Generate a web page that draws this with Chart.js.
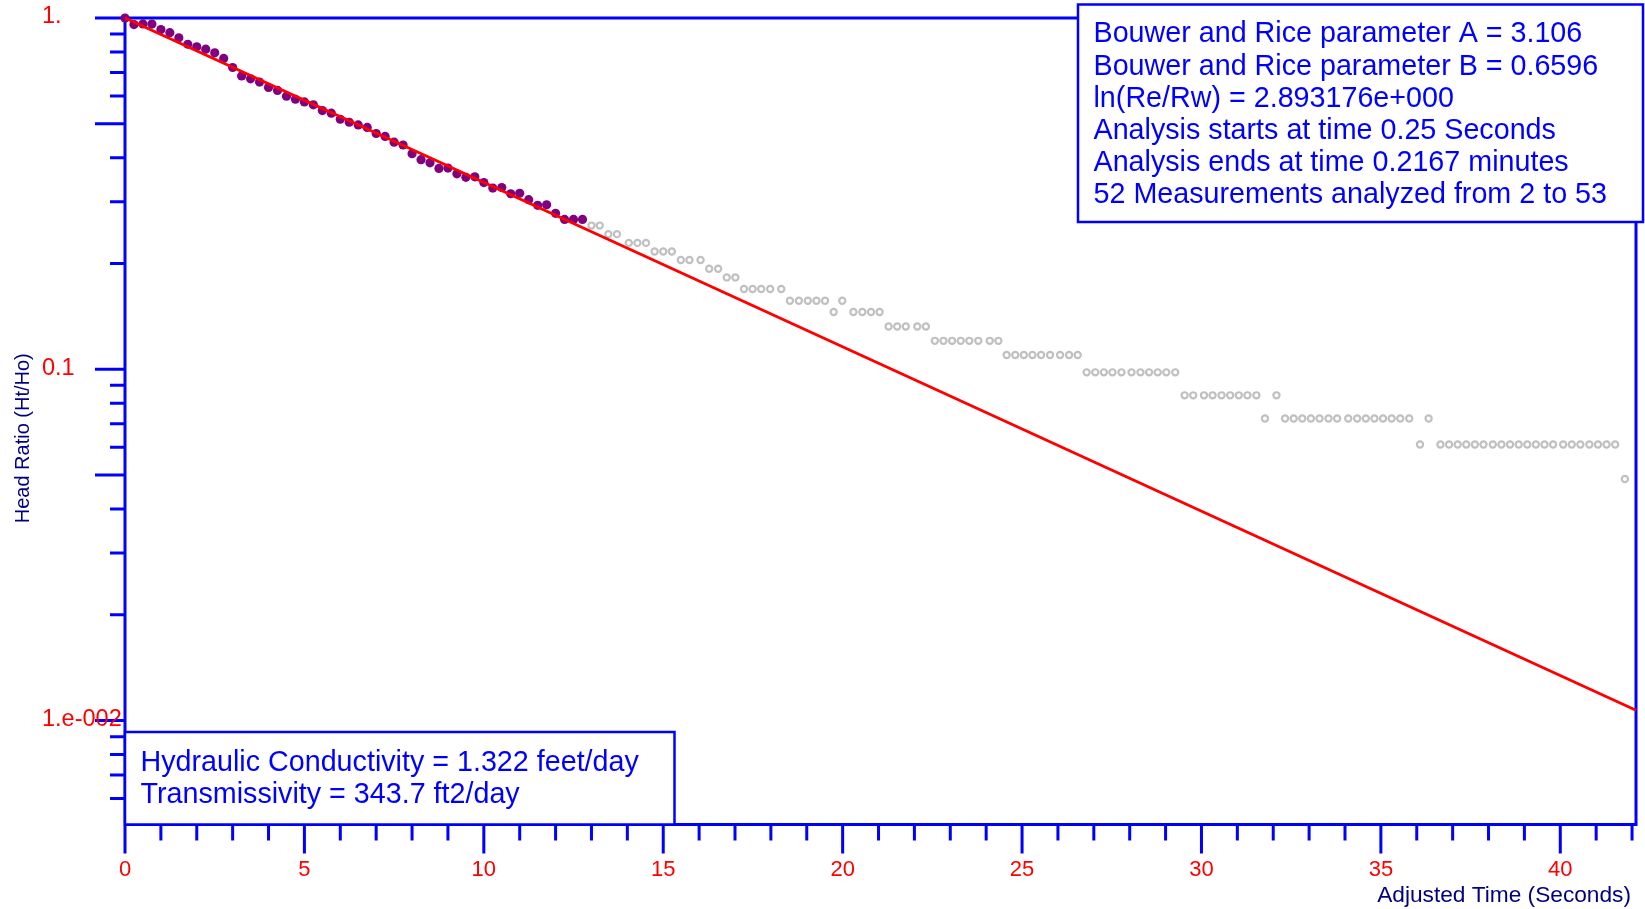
<!DOCTYPE html>
<html>
<head>
<meta charset="utf-8">
<script src="https://cdn.jsdelivr.net/npm/chart.js@4.4.0/dist/chart.umd.min.js"></script>
<style>
  html, body { margin: 0; padding: 0; background: #ffffff; }
  #wrap { position: relative; width: 1645px; height: 909px; }
</style>
</head>
<body>
<div id="wrap"><canvas id="slug"></canvas></div>
<script>
// Head ratio measurements inside the analysis window (adjusted time, seconds)
const analyzedTime = [0, 0.25, 0.5, 0.75, 1, 1.25, 1.5, 1.75, 2, 2.25, 2.5, 2.75, 3, 3.25, 3.5, 3.75,
  4, 4.25, 4.5, 4.75, 5, 5.25, 5.5, 5.75, 6, 6.25, 6.5, 6.75, 7, 7.25, 7.5, 7.75, 8, 8.25, 8.5, 8.75,
  9, 9.25, 9.5, 9.75, 10, 10.25, 10.5, 10.75, 11, 11.25, 11.5, 11.75, 12, 12.25, 12.5, 12.75];
const analyzedRatio = [1.000, 0.958, 0.962, 0.961, 0.927, 0.908, 0.878, 0.842, 0.828, 0.815, 0.796, 0.767,
  0.723, 0.684, 0.671, 0.657, 0.634, 0.622, 0.599, 0.587, 0.577, 0.566, 0.545, 0.536, 0.515, 0.505,
  0.496, 0.488, 0.469, 0.460, 0.443, 0.435, 0.411, 0.395, 0.387, 0.373, 0.374, 0.360, 0.352, 0.353,
  0.340, 0.328, 0.329, 0.316, 0.317, 0.304, 0.293, 0.294, 0.278, 0.267, 0.267, 0.267];

// Measurements after the analysis window
const laterTime = [13.00, 13.23, 13.47, 13.71, 14.04, 14.28, 14.52, 14.76, 15.00, 15.24,
  15.49, 15.73, 16.04, 16.28, 16.53, 16.77, 17.01, 17.25, 17.49, 17.73,
  17.98, 18.29, 18.53, 18.78, 19.03, 19.27, 19.51, 19.75, 19.99, 20.30,
  20.55, 20.79, 21.03, 21.28, 21.52, 21.76, 22.08, 22.32, 22.57, 22.81,
  23.05, 23.29, 23.53, 23.78, 24.10, 24.34, 24.57, 24.81, 25.05, 25.29,
  25.53, 25.78, 26.06, 26.31, 26.55, 26.80, 27.04, 27.28, 27.52, 27.77,
  28.05, 28.30, 28.54, 28.78, 29.02, 29.27, 29.53, 29.77, 30.07, 30.31,
  30.56, 30.80, 31.04, 31.28, 31.53, 31.77, 32.09, 32.33, 32.57, 32.81,
  33.05, 33.29, 33.54, 33.78, 34.09, 34.34, 34.58, 34.82, 35.06, 35.30,
  35.54, 35.79, 36.09, 36.33, 36.66, 36.90, 37.14, 37.38, 37.62, 37.86,
  38.12, 38.36, 38.60, 38.84, 39.08, 39.32, 39.56, 39.80, 40.08, 40.32,
  40.56, 40.81, 41.05, 41.29, 41.53, 41.80];
const laterRatio = [0.2565, 0.2565, 0.2425, 0.2425, 0.229, 0.229, 0.229, 0.2165, 0.2165, 0.2165,
  0.2046, 0.2046, 0.2046, 0.1932, 0.1932, 0.1826, 0.1826, 0.1692, 0.1692, 0.1692,
  0.1692, 0.1692, 0.1567, 0.1567, 0.1567, 0.1567, 0.1567, 0.1455, 0.1567, 0.1455,
  0.1455, 0.1455, 0.1455, 0.1324, 0.1324, 0.1324, 0.1324, 0.1324, 0.1205, 0.1205,
  0.1205, 0.1205, 0.1205, 0.1205, 0.1205, 0.1205, 0.1098, 0.1098, 0.1098, 0.1098,
  0.1098, 0.1098, 0.1098, 0.1098, 0.1098, 0.0980, 0.0980, 0.0980, 0.0980, 0.0980,
  0.0980, 0.0980, 0.0980, 0.0980, 0.0980, 0.0980, 0.0843, 0.0843, 0.0843, 0.0843,
  0.0843, 0.0843, 0.0843, 0.0843, 0.0843, 0.0724, 0.0843, 0.0724, 0.0724, 0.0724,
  0.0724, 0.0724, 0.0724, 0.0724, 0.0724, 0.0724, 0.0724, 0.0724, 0.0724, 0.0724,
  0.0724, 0.0724, 0.0611, 0.0724, 0.0611, 0.0611, 0.0611, 0.0611, 0.0611, 0.0611,
  0.0611, 0.0611, 0.0611, 0.0611, 0.0611, 0.0611, 0.0611, 0.0611, 0.0611, 0.0611,
  0.0611, 0.0611, 0.0611, 0.0611, 0.0611, 0.0487];

// Bouwer and Rice straight-line fit (end points)
const fitTime = [0, 42.11];
const fitRatio = [1.0, 0.0107];

// Axis ranges and ticks
const xRange = [0, 42.11];
const yRange = [0.00506, 1];
const xMajorTicks = [0, 5, 10, 15, 20, 25, 30, 35, 40];
const xMinorTicks = [1, 2, 3, 4, 6, 7, 8, 9, 11, 12, 13, 14, 16, 17, 18, 19, 21, 22, 23, 24,
  26, 27, 28, 29, 31, 32, 33, 34, 36, 37, 38, 39, 41, 42];
const xTickLabels = ['0', '5', '10', '15', '20', '25', '30', '35', '40'];
const yMajorTicks = [1, 0.5, 0.1, 0.05, 0.01];
const yMinorTicks = [0.9, 0.8, 0.7, 0.6, 0.4, 0.3, 0.2, 0.09, 0.08, 0.07, 0.06, 0.04, 0.03, 0.02,
  0.009, 0.008, 0.007, 0.006];
const yLabelValues = [1, 0.1, 0.01];
const yTickLabels = ['1.', '0.1', '1.e-002'];

const xTitle = 'Adjusted Time (Seconds)';
const yTitle = 'Head Ratio (Ht/Ho)';
const resultsTop = [
  'Bouwer and Rice parameter A = 3.106',
  'Bouwer and Rice parameter B = 0.6596',
  'ln(Re/Rw) = 2.893176e+000',
  'Analysis starts at time 0.25 Seconds',
  'Analysis ends at time 0.2167 minutes',
  '52 Measurements analyzed from 2 to 53'
];
const resultsBottom = [
  'Hydraulic Conductivity = 1.322 feet/day',
  'Transmissivity = 343.7 ft2/day'
];

const FONT = "'Liberation Sans', Arial, Helvetica, sans-serif";
const BLUE = '#0000ff';
const RED = '#ff0000';
const NAVY = '#000080';

const toPoints = (xs, ys) => xs.map((v, i) => ({ x: v, y: ys[i] }));

// Axis frame, tick marks, tick labels and axis titles
const framePlugin = {
  id: 'frame',
  beforeDatasetsDraw(chart) {
    const { ctx, chartArea: a, scales: { x, y } } = chart;
    ctx.save();
    ctx.strokeStyle = BLUE;
    ctx.lineWidth = 3;
    ctx.lineCap = 'butt';
    ctx.beginPath();
    ctx.moveTo(a.left, a.top); ctx.lineTo(a.right, a.top);
    ctx.moveTo(a.right, a.top); ctx.lineTo(a.right, a.bottom);
    ctx.moveTo(a.left, a.top - 1.5); ctx.lineTo(a.left, a.bottom + 1.5);
    ctx.moveTo(a.left - 1.5, a.bottom); ctx.lineTo(a.right + 1.5, a.bottom);
    yMajorTicks.forEach(v => { const p = y.getPixelForValue(v); ctx.moveTo(a.left - 30, p); ctx.lineTo(a.left, p); });
    yMinorTicks.forEach(v => { const p = y.getPixelForValue(v); ctx.moveTo(a.left - 15, p); ctx.lineTo(a.left, p); });
    xMajorTicks.forEach(v => { const p = x.getPixelForValue(v); ctx.moveTo(p, a.bottom); ctx.lineTo(p, a.bottom + 29); });
    xMinorTicks.forEach(v => { const p = x.getPixelForValue(v); ctx.moveTo(p, a.bottom); ctx.lineTo(p, a.bottom + 16); });
    ctx.stroke();

    ctx.fillStyle = RED;
    ctx.font = `22px ${FONT}`;
    ctx.textBaseline = 'middle';
    ctx.textAlign = 'center';
    xMajorTicks.forEach((v, i) => ctx.fillText(xTickLabels[i], x.getPixelForValue(v), a.bottom + 45));
    ctx.font = `23.5px ${FONT}`;
    ctx.textAlign = 'left';
    yLabelValues.forEach((v, i) => ctx.fillText(yTickLabels[i], 42, y.getPixelForValue(v) - 1));

    ctx.fillStyle = NAVY;
    ctx.font = `22.7px ${FONT}`;
    ctx.textAlign = 'right';
    ctx.fillText(xTitle, a.right - 5, a.bottom + 71);
    ctx.save();
    ctx.translate(23, (a.top + a.bottom) / 2 + 17);
    ctx.rotate(-Math.PI / 2);
    ctx.font = `20px ${FONT}`;
    ctx.textAlign = 'center';
    ctx.fillText(yTitle, 0, 0);
    ctx.restore();
    ctx.restore();
  },
  afterDraw(chart) {
    const { ctx, chartArea: a } = chart;
    const box = (x0, y0, x1, y1, lines, tx, ty, step) => {
      ctx.fillStyle = '#ffffff';
      ctx.fillRect(x0, y0, x1 - x0, y1 - y0);
      ctx.strokeStyle = BLUE;
      ctx.lineWidth = 2.5;
      ctx.strokeRect(x0, y0, x1 - x0, y1 - y0);
      ctx.fillStyle = BLUE;
      ctx.font = `28.7px ${FONT}`;
      ctx.textAlign = 'left';
      ctx.textBaseline = 'middle';
      lines.forEach((s, i) => ctx.fillText(s, tx, ty + i * step));
    };
    ctx.save();
    box(1078, 4.5, 1643, 222, resultsTop, 1093.5, 34.5, 32.1);
    box(a.left, 732, 674.5, a.bottom, resultsBottom, 140.5, 763, 32.3);
    ctx.restore();
  }
};

new Chart(document.getElementById('slug'), {
  type: 'scatter',
  data: {
    datasets: [
      {
        label: 'Bouwer-Rice fit',
        data: toPoints(fitTime, fitRatio),
        showLine: true,
        borderColor: RED,
        borderWidth: 3,
        pointRadius: 0,
        clip: false,
        order: 0
      },
      {
        label: 'Analyzed',
        data: toPoints(analyzedTime, analyzedRatio),
        pointRadius: 4.6,
        pointBackgroundColor: '#800080',
        pointBorderColor: '#800080',
        pointBorderWidth: 0,
        clip: false,
        order: 1
      },
      {
        label: 'Not analyzed',
        data: toPoints(laterTime, laterRatio),
        pointRadius: 3.1,
        pointBackgroundColor: '#ffffff',
        pointBorderColor: '#c0c0c0',
        pointBorderWidth: 2.2,
        clip: false,
        order: 2
      }
    ]
  },
  options: {
    responsive: true,
    maintainAspectRatio: false,
    animation: false,
    events: [],
    layout: { padding: { left: 125, top: 18, right: 9, bottom: 84.5 } },
    plugins: { legend: { display: false }, tooltip: { enabled: false } },
    scales: {
      x: { type: 'linear', min: xRange[0], max: xRange[1], display: false },
      y: { type: 'logarithmic', min: yRange[0], max: yRange[1], display: false }
    }
  },
  plugins: [framePlugin]
});
</script>
</body>
</html>
